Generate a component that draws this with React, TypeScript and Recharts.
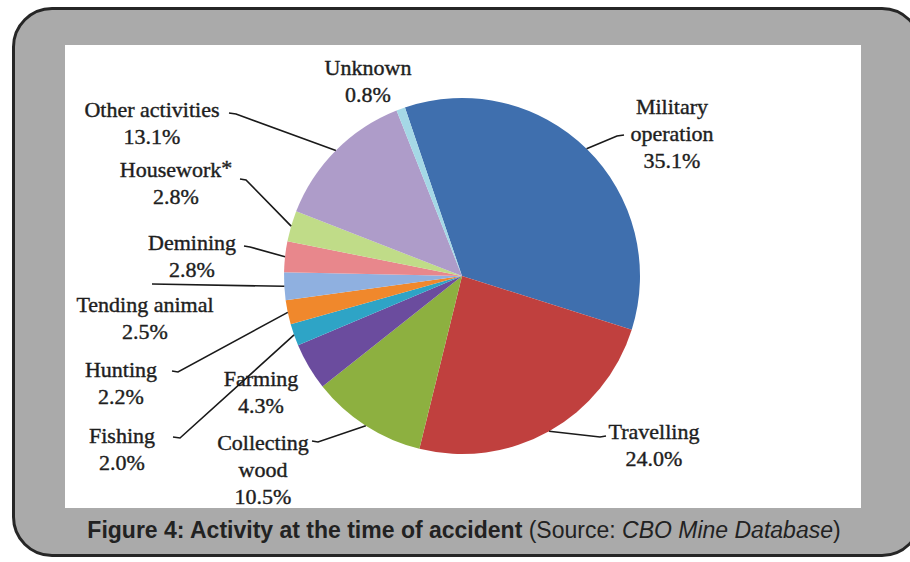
import React from "react";
import { PieChart, Pie, Cell } from "recharts";

const categories = [
  "Military operation",
  "Travelling",
  "Collecting wood",
  "Farming",
  "Fishing",
  "Hunting",
  "Tending animal",
  "Demining",
  "Housework",
  "Other activities",
  "Unknown",
];
const values = [35.1, 24.0, 10.5, 4.3, 2.0, 2.2, 2.5, 2.8, 2.8, 13.1, 0.8];
const labelLines = [
  ["Military", "operation"],
  ["Travelling"],
  ["Collecting", "wood"],
  ["Farming"],
  ["Fishing"],
  ["Hunting"],
  ["Tending animal"],
  ["Demining"],
  ["Housework"],
  ["Other activities"],
  ["Unknown"],
];
const percentLabels = ["35.1%", "24.0%", "10.5%", "4.3%", "2.0%", "2.2%", "2.5%", "2.8%", "2.8%", "13.1%", "0.8%"];
const colors = [
  "#3f6fae",
  "#c0403e",
  "#8db040",
  "#6b4c9e",
  "#2ea4c6",
  "#f0882c",
  "#8fb0e0",
  "#e8878c",
  "#c0dc88",
  "#ae9cc9",
  "#a5d8e6",
];

const data = categories.map((name, i) => ({ name, value: values[i] }));

// label layout: text centre x, first baseline y, leader end point, hook x
type Layout = { tx: number; ty: number; line?: [number, number, number] };
const LABEL_LAYOUT: Layout[] = [
  { tx: 672, ty: 114, line: [617, 136, 624] },
  { tx: 654, ty: 439, line: [600, 437, 606] },
  { tx: 263, ty: 450, line: [318, 442, 312] },
  { tx: 261, ty: 386 },
  { tx: 122, ty: 443, line: [180, 438, 173] },
  { tx: 121, ty: 377, line: [178, 372, 172] },
  { tx: 145, ty: 312, line: [152, 284, 152] },
  { tx: 192, ty: 250, line: [250, 247, 244] },
  { tx: 176, ty: 177, line: [246, 180, 240] },
  { tx: 152, ty: 117, line: [236, 114, 229] },
  { tx: 368, ty: 75 },
];

const RAD = Math.PI / 180;
const LINE_H = 27;

const renderLabel = (props: any) => {
  const { cx, cy, midAngle, outerRadius, index } = props;
  const L = LABEL_LAYOUT[index];
  const sx = cx + outerRadius * Math.cos(-midAngle * RAD);
  const sy = cy + outerRadius * Math.sin(-midAngle * RAD);
  const lines = [...labelLines[index], percentLabels[index]];
  return (
    <g key={`lbl-${index}`}>
      {L.line && (
        <polyline
          points={`${sx},${sy} ${L.line[0]},${L.line[1]} ${L.line[2]},${L.line[1] - (L.line[2] === L.line[0] ? 0 : 1)}`}
          fill="none"
          stroke="#1a1a1a"
          strokeWidth={1.6}
        />
      )}
      <text
        textAnchor="middle"
        fontFamily="'Liberation Serif', serif"
        fontSize={22}
        fill="#1e1e1e"
        stroke="#1e1e1e"
        strokeWidth={0.4}
      >
        {lines.map((t, i) => (
          <tspan key={i} x={L.tx} y={L.ty + i * LINE_H}>
            {t}
            {index === 8 && i === 0 ? (
              <tspan fontSize={22} dy={-2}>*</tspan>
            ) : null}
          </tspan>
        ))}
      </text>
    </g>
  );
};

export default function App() {
  return (
    <div
      style={{
        position: "absolute",
        left: 0,
        top: 0,
        width: 910,
        height: 562,
        background: "#ffffff",
        overflow: "hidden",
      }}
    >
      <div
        style={{
          position: "absolute",
          left: 12,
          top: 7,
          width: 910,
          height: 550,
          boxSizing: "border-box",
          border: "3px solid #262626",
          borderRadius: 40,
          background: "#aaaaaa",
        }}
      />
      <div
        style={{
          position: "absolute",
          left: 65,
          top: 45,
          width: 796,
          height: 463,
          background: "#ffffff",
        }}
      />
      <div
        style={{
          position: "absolute",
          left: 0,
          top: 517,
          width: 928,
          textAlign: "center",
          fontFamily: "'Liberation Sans', Arial, sans-serif",
          fontSize: 23,
          color: "#222222",
          whiteSpace: "nowrap",
        }}
      >
        <span style={{ fontWeight: "bold" }}>Figure 4: Activity at the time of accident</span>{" "}
        (Source: <span style={{ fontStyle: "italic" }}>CBO Mine Database</span>)
      </div>
      <div style={{ position: "absolute", left: 0, top: 0 }}>
        <PieChart width={910} height={562} margin={{ top: 0, right: 0, bottom: 0, left: 0 }}>
          <Pie
            data={data}
            dataKey="value"
            nameKey="name"
            cx={462}
            cy={276}
            outerRadius={178}
            startAngle={108.7}
            endAngle={-251.3}
            stroke="none"
            isAnimationActive={false}
            label={renderLabel}
            labelLine={false}
          >
            {data.map((d, i) => (
              <Cell key={d.name} fill={colors[i]} />
            ))}
          </Pie>
        </PieChart>
      </div>
    </div>
  );
}
